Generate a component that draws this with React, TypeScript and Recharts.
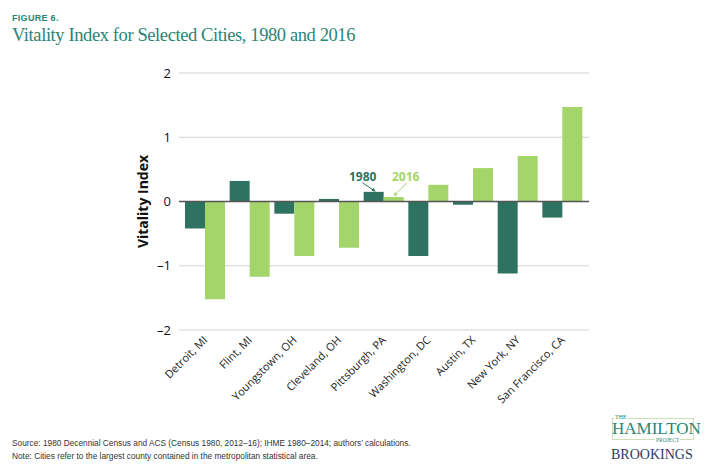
import React from 'react';
import { BarChart, Bar, XAxis, YAxis, CartesianGrid, ReferenceLine, LabelList } from 'recharts';

const cities = ['Detroit, MI', 'Flint, MI', 'Youngstown, OH', 'Cleveland, OH', 'Pittsburgh, PA', 'Washington, DC', 'Austin, TX', 'New York, NY', 'San Francisco, CA'];
const v1980 = [-0.42, 0.32, -0.19, 0.04, 0.15, -0.85, -0.05, -1.12, -0.25];
const v2016 = [-1.52, -1.17, -0.85, -0.72, 0.07, 0.26, 0.52, 0.71, 1.47];
const yTicks = [-2, -1, 0, 1, 2];
const seriesNames = ['1980', '2016'];
const annotatedCity = 'Pittsburgh, PA';

const data = cities.map((c, i) => ({ city: c, y1980: v1980[i], y2016: v2016[i] }));

const DARK = '#2e7262';
const LIGHT = '#a4d56a';
const TEAL = '#2a8577';
const SANS = '"Open Sans", "Noto Sans", sans-serif';

const XTick = (props: any) => {
  const { x, y, payload } = props;
  return (
    <g transform={`translate(${x},${y})`}>
      <text x={0} y={0} dy="0.35em" textAnchor="end" transform="rotate(-45)" fontSize={11} fontFamily={SANS} fill="#222">
        {payload.value}
      </text>
    </g>
  );
};

const Annot1980 = (props: any) => {
  const { x, y, index } = props;
  if (cities[index] !== annotatedCity) return null;
  const bx = Number(x);
  const by = Number(y);
  return (
    <g>
      <text x={bx - 1} y={by - 11} textAnchor="middle" fontSize={12} fontWeight={700} fontFamily={SANS} fill={DARK}>{seriesNames[0]}</text>
      <line x1={bx - 1} y1={by - 9} x2={bx + 11} y2={by - 1} stroke={DARK} strokeWidth={1} />
      <polygon points={`${bx + 12},${by} ${bx + 8},${by - 1} ${bx + 10},${by - 4}`} fill={DARK} />
    </g>
  );
};

const Annot2016 = (props: any) => {
  const { x, y, index } = props;
  if (cities[index] !== annotatedCity) return null;
  const bx = Number(x);
  const by = Number(y);
  return (
    <g>
      <text x={bx + 22} y={by - 16} textAnchor="middle" fontSize={12} fontWeight={700} fontFamily={SANS} fill={LIGHT}>{seriesNames[1]}</text>
      <line x1={bx + 23} y1={by - 14} x2={bx + 11} y2={by - 2} stroke={LIGHT} strokeWidth={1} />
      <polygon points={`${bx + 10},${by - 1} ${bx + 11},${by - 5} ${bx + 14},${by - 2}`} fill={LIGHT} />
    </g>
  );
};

const YTitle = (props: any) => {
  const { viewBox } = props;
  const cx = viewBox.x + 23;
  const cy = viewBox.y + viewBox.height / 2;
  return (
    <text x={cx} y={cy} transform={`rotate(-90, ${cx}, ${cy})`} textAnchor="middle" dominantBaseline="central" fontSize={14} fontWeight={700} fontFamily={SANS} fill="#111">
      Vitality Index
    </text>
  );
};

export default function App() {
  return (
    <div style={{ position: 'absolute', left: 0, top: 0, width: 706, height: 467, background: '#fff', overflow: 'hidden' }}>
      <div style={{ position: 'absolute', left: 12, top: 13, fontFamily: '"Liberation Sans", Arial, sans-serif', fontWeight: 700, fontSize: 9, color: TEAL, letterSpacing: 0.3 }}>FIGURE 6.</div>
      <div style={{ position: 'absolute', left: 12, top: 25, fontFamily: '"Liberation Serif", serif', fontSize: 18.5, letterSpacing: -0.4, color: TEAL, whiteSpace: 'nowrap' }}>
        Vitality Index for Selected Cities, 1980 and 2016
      </div>
      <div style={{ position: 'absolute', left: 0, top: 0 }}>
        <BarChart width={706} height={467} data={data} margin={{ top: 73, right: 117, bottom: 57, left: 119 }} barCategoryGap={2} barGap={0}>
          <CartesianGrid vertical={false} stroke="#d3d3d3" strokeWidth={1} />
          <XAxis dataKey="city" axisLine={false} tickLine={false} interval={0} height={80} padding={{ left: 4, right: 4 }} tick={<XTick />} />
          <YAxis
            domain={[-2, 2]}
            ticks={yTicks}
            width={60}
            axisLine={false}
            tickLine={false}
            tickFormatter={(v: number) => (v < 0 ? '\u2013' + Math.abs(v) : String(v))}
            tick={{ fontSize: 13, fontFamily: SANS, fill: '#111' }}
            label={<YTitle />}
          />
          <Bar dataKey="y1980" fill={DARK} isAnimationActive={false}>
            <LabelList dataKey="y1980" content={<Annot1980 />} />
          </Bar>
          <Bar dataKey="y2016" fill={LIGHT} isAnimationActive={false}>
            <LabelList dataKey="y2016" content={<Annot2016 />} />
          </Bar>
          <ReferenceLine y={0} stroke="#555" strokeWidth={1.5} />
        </BarChart>
      </div>
      <div style={{ position: 'absolute', left: 12, top: 437, fontFamily: '"Liberation Sans", Arial, sans-serif', fontSize: 8.3, color: '#333', lineHeight: '13px', whiteSpace: 'nowrap' }}>
        <div>Source: 1980 Decennial Census and ACS (Census 1980, 2012–16); IHME 1980–2014; authors’ calculations.</div>
        <div>Note: Cities refer to the largest county contained in the metropolitan statistical area.</div>
      </div>
      <div style={{ position: 'absolute', left: 612, top: 418, width: 82, height: 22, border: '1px solid #cfdcb8', boxSizing: 'border-box' }} />
      <div style={{ position: 'absolute', left: 614, top: 414, background: '#fff', padding: '0 1px', fontFamily: '"Liberation Serif", serif', fontSize: 6, color: TEAL, lineHeight: '7px' }}>THE</div>
      <div style={{ position: 'absolute', left: 612, top: 421, width: 82, textAlign: 'center', fontFamily: '"Liberation Serif", serif', fontSize: 17, color: TEAL, lineHeight: '15px' }}>HAMILTON</div>
      <div style={{ position: 'absolute', left: 655, top: 437, background: '#fff', padding: '0 1px', fontFamily: '"Liberation Serif", serif', fontSize: 5.5, color: TEAL, lineHeight: '6px' }}>PROJECT</div>
      <div style={{ position: 'absolute', left: 611, top: 447, width: 80, textAlign: 'center', fontFamily: '"Liberation Serif", serif', fontSize: 14, color: '#2b3a6b', lineHeight: '16px' }}>BROOKINGS</div>
    </div>
  );
}
